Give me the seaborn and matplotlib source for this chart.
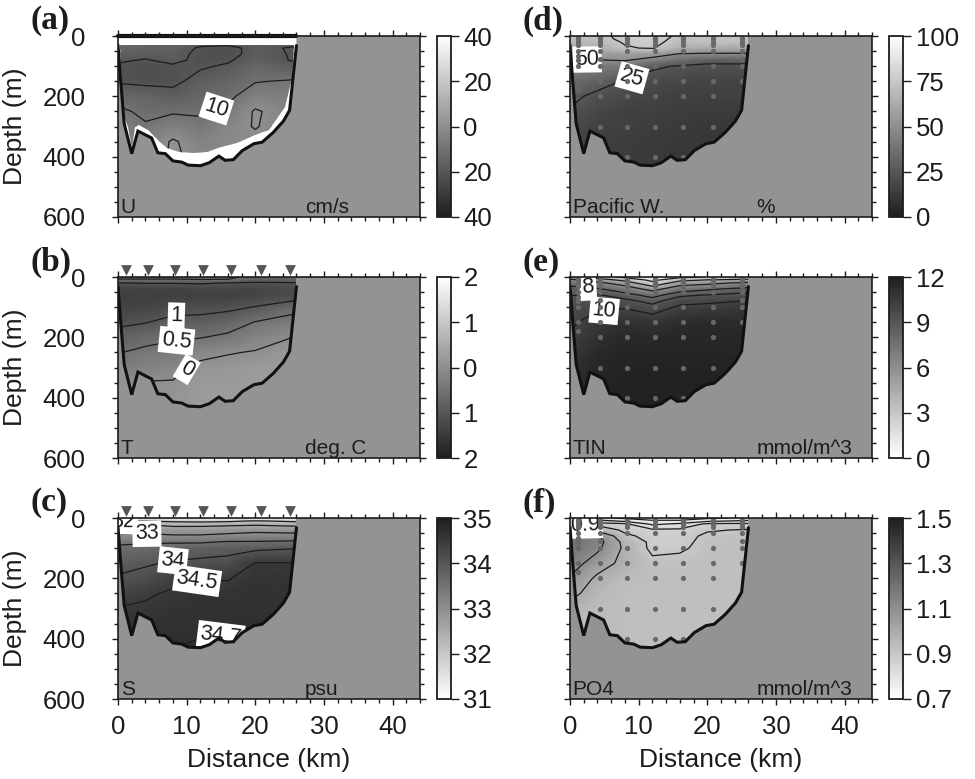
import numpy as np
import pandas as pd
import matplotlib
matplotlib.use("Agg")
import matplotlib.pyplot as plt
import seaborn as sns
from matplotlib.colors import LinearSegmentedColormap, Normalize
from matplotlib.patches import Polygon
from matplotlib.ticker import MultipleLocator, FuncFormatter
from matplotlib.cm import ScalarMappable

# ---------------- data ----------------
grid_x = [0, 4, 8, 12, 16, 20, 26]                                     # km
grid_z = [0, 10, 20, 40, 60, 80, 100, 150, 200, 250, 300, 350, 450]    # m

# bottom topography (thick black line)
bath_x = [0.0, 0.4, 0.9, 2.0, 2.9, 4.9, 5.8, 6.9, 8.0, 9.3, 10.2, 12.0, 13.3,
          14.7, 15.6, 16.8, 18.1, 19.8, 21.0, 22.6, 24.1, 25.0, 26.0]
bath_z = [30, 150, 290, 390, 315, 338, 387, 390, 414, 418, 428, 430, 420,
          398, 412, 410, 380, 357, 352, 320, 282, 246, 32]

# extent of the ADCP velocity data (panel a)
u_edge_x = [0.3, 25.7, 25.3, 24.4, 22.0, 19.9, 17.3, 15.0, 13.0, 11.1, 8.9,
            7.1, 6.2, 4.4, 3.1, 2.5, 2.0, 1.4, 0.8]
u_edge_z = [30, 30, 140, 234, 311, 328, 356, 367, 383, 389, 383,
            372, 355, 312, 295, 300, 370, 300, 260]
adcp_bar_x = [0.0, 26.0]
adcp_bar_z = [0, 0]

# CTD stations and bottle depths
station_x = [1.2, 4.4, 8.3, 12.4, 16.4, 20.9, 25.0]
bottle_depths = [
    [5, 10, 20, 30, 50, 65, 80, 100, 150, 180],
    [5, 10, 20, 30, 50, 75, 100, 150, 200, 300],
    [5, 10, 20, 30, 50, 100, 150, 200, 300, 400],
    [5, 10, 20, 30, 50, 100, 150, 200, 300, 400],
    [5, 10, 20, 30, 50, 100, 150, 200, 300, 400],
    [5, 10, 20, 30, 50, 100, 150, 200, 300],
    [5, 10, 20, 30, 50, 75, 100, 150],
]

# field profiles: one list per grid_x column, values at grid_z
U_cols = [
    [-12, -12, -13, -14, -16, -19, -21, -21, -14, -8, -5, -4, -4],
    [-12, -12, -14, -16, -18, -20.5, -23, -22, -15, -12, -9, -6, -5],
    [-13, -13, -14, -16, -17, -18, -21, -22, -17, -11, -5, 1, 2],
    [-14, -15, -17, -21, -22, -22, -21, -17, -14, -11, -8, -4, -2],
    [-14, -15, -17, -22, -23, -21, -19, -15, -12, -8, -3, -2, -2],
    [-14, -15, -16, -18, -17, -16, -14, -10.5, -5, 1, 0.5, -2, -2],
    [-14, -15, -17, -21, -21, -21, -18, -9, -6, -5, -5, -5, -5],
]
T_cols = [
    [-0.3, -0.6, -1.02, -1.35, -1.4, -1.4, -1.35, -1.1, -0.8, -0.52, -0.3, -0.1, 0.1],
    [-0.3, -0.6, -0.98, -1.35, -1.4, -1.35, -1.3, -1.02, -0.65, -0.4, -0.2, 0.02, 0.15],
    [-0.3, -0.6, -0.98, -1.35, -1.4, -1.3, -1.2, -0.85, -0.55, -0.35, -0.15, 0.03, 0.2],
    [-0.3, -0.55, -0.95, -1.3, -1.35, -1.3, -1.15, -0.85, -0.52, -0.12, 0.1, 0.2, 0.25],
    [-0.35, -0.55, -1.02, -1.3, -1.35, -1.25, -1.1, -0.75, -0.4, -0.03, 0.15, 0.2, 0.25],
    [-0.7, -0.85, -1.05, -1.3, -1.3, -1.15, -0.98, -0.48, -0.2, 0.03, 0.2, 0.25, 0.3],
    [-0.7, -0.85, -1.02, -1.2, -1.15, -0.98, -0.65, -0.3, 0.02, 0.2, 0.25, 0.3, 0.3],
]
S_cols = [
    [31.5, 31.95, 32.4, 32.8, 33.1, 33.4, 33.6, 33.85, 34.05, 34.3, 34.52, 34.6, 34.68],
    [31.3, 32.0, 32.45, 32.85, 33.1, 33.45, 33.65, 33.95, 34.15, 34.45, 34.55, 34.62, 34.69],
    [31.2, 31.9, 32.3, 32.8, 33.05, 33.45, 33.75, 34.05, 34.4, 34.55, 34.62, 34.66, 34.71],
    [31.2, 31.85, 32.3, 32.8, 33.05, 33.45, 33.8, 34.1, 34.49, 34.6, 34.65, 34.66, 34.74],
    [31.2, 31.9, 32.35, 32.85, 33.1, 33.55, 33.85, 34.15, 34.48, 34.6, 34.65, 34.67, 34.75],
    [31.1, 32.05, 32.4, 32.9, 33.15, 33.55, 33.9, 34.52, 34.62, 34.64, 34.66, 34.69, 34.75],
    [31.2, 31.9, 32.3, 32.85, 33.15, 33.6, 33.98, 34.52, 34.62, 34.64, 34.66, 34.68, 34.72],
]
PW_cols = [
    [70, 70, 68, 62, 55, 49, 44, 35, 28, 24, 20, 18, 15],
    [72, 72, 70, 64, 56, 49.5, 42, 30, 22, 18, 16, 15, 14],
    [78, 77, 76, 74, 57, 51, 40, 24, 19, 16, 15, 14, 13],
    [80, 79, 78, 76, 56, 45, 27, 20, 17, 15, 14, 13, 12],
    [73, 72, 71, 65, 49, 36, 24, 18, 15, 14, 13, 12, 12],
    [74, 73, 72, 62, 48, 30, 22, 17, 15, 13, 12, 12, 11],
    [74, 73, 72, 62, 48, 30, 22, 17, 15, 13, 12, 12, 11],
]
TIN_cols = [
    [5, 6.5, 7.5, 8.5, 8.95, 9.3, 9.5, 9.8, 10.1, 10.6, 11.0, 11.2, 11.4],
    [3, 5, 6.5, 8.2, 9.1, 9.5, 9.8, 10.5, 11.0, 11.3, 11.5, 11.6, 11.7],
    [1.5, 3.5, 5, 7.2, 8.5, 9.3, 9.9, 11.0, 11.4, 11.6, 11.7, 11.8, 11.8],
    [0.5, 1.5, 2.5, 5.3, 7.5, 8.7, 9.3, 10.8, 11.4, 11.6, 11.7, 11.8, 11.8],
    [1.5, 3.5, 5.0, 7.3, 8.8, 9.6, 10.2, 11.2, 11.5, 11.6, 11.7, 11.8, 11.8],
    [2.1, 4.1, 5.5, 7.8, 9.05, 9.8, 10.3, 11.3, 11.5, 11.6, 11.7, 11.8, 11.8],
    [2.5, 4.5, 6.5, 8.5, 9.3, 10.05, 10.6, 11.3, 11.5, 11.6, 11.7, 11.8, 11.8],
]
PO4_cols = [
    [0.8, 0.84, 0.88, 1.02, 1.18, 1.22, 1.2, 1.15, 1.09, 1.03, 0.97, 0.95, 0.95],
    [0.76, 0.82, 0.87, 0.97, 1.12, 1.14, 1.12, 1.05, 0.98, 0.95, 0.94, 0.94, 0.94],
    [0.74, 0.79, 0.86, 0.88, 0.92, 0.97, 0.98, 0.97, 0.94, 0.93, 0.93, 0.93, 0.93],
    [0.72, 0.76, 0.79, 0.86, 0.87, 0.88, 0.88, 0.92, 0.93, 0.93, 0.93, 0.93, 0.93],
    [0.72, 0.76, 0.81, 0.86, 0.88, 0.88, 0.89, 0.92, 0.93, 0.93, 0.93, 0.93, 0.93],
    [0.74, 0.79, 0.86, 0.895, 0.91, 0.92, 0.92, 0.93, 0.93, 0.93, 0.93, 0.93, 0.93],
    [0.76, 0.81, 0.86, 0.905, 0.92, 0.93, 0.93, 0.93, 0.93, 0.93, 0.93, 0.93, 0.93],
]

# ---------------- style ----------------
sns.set_theme(style="ticks")
plt.rcParams["font.family"] = ["Liberation Sans", "DejaVu Sans"]
plt.rcParams["axes.unicode_minus"] = False

W, H = 975, 779
fig = plt.figure(figsize=(W / 100, H / 100), dpi=100)

BG = "#939393"
INK = "#1c1c1c"
cmap_up = LinearSegmentedColormap.from_list("gray_up", ["#1e1e1e", "#ffffff"])
cmap_down = cmap_up.reversed()

def absfmt(v, pos=None):
    return f"{abs(v):g}"

panels = [
    dict(letter="(a)", row=0, col=0, cols=U_cols, cmap=cmap_up, vmin=-40, vmax=40,
         cticks=[-40, -20, 0, 20, 40], levels=[-20, -10, 0], lab_levels=[-10],
         lab_pos=[(14.5, 255)], name="U", unit="cm/s", kind="adcp"),
    dict(letter="(b)", row=1, col=0, cols=T_cols, cmap=cmap_up, vmin=-2, vmax=2,
         cticks=[-2, -1, 0, 1, 2], levels=[-1, -0.5, 0], lab_levels=[-1, -0.5, 0],
         lab_pos=[(8.5, 130), (8.5, 205), (10.2, 315)], name="T", unit="deg. C", kind="ctd"),
    dict(letter="(c)", row=2, col=0, cols=S_cols, cmap=cmap_down, vmin=31, vmax=35,
         cticks=[31, 32, 33, 34, 35], levels=[32, 32.5, 33, 33.5, 34, 34.5, 34.7],
         lab_levels=[32, 33, 34, 34.5, 34.7],
         lab_pos=[(0.8, 12), (4.2, 62), (8, 140), (11.5, 205), (15, 398)],
         name="S", unit="psu", kind="ctd"),
    dict(letter="(d)", row=0, col=1, cols=PW_cols, cmap=cmap_up, vmin=0, vmax=100,
         cticks=[0, 25, 50, 75, 100], levels=[25, 50, 75], lab_levels=[25, 50],
         lab_pos=[(9, 135), (2.5, 80)], name="Pacific W.", unit="%", kind="bottle"),
    dict(letter="(e)", row=1, col=1, cols=TIN_cols, cmap=cmap_down, vmin=0, vmax=12,
         cticks=[0, 3, 6, 9, 12], levels=[2, 4, 6, 8, 9, 10], lab_levels=[8, 10],
         lab_pos=[(2.6, 40), (5, 120)], name="TIN", unit="mmol/m^3", kind="bottle"),
    dict(letter="(f)", row=2, col=1, cols=PO4_cols, cmap=cmap_down, vmin=0.7, vmax=1.5,
         cticks=[0.7, 0.9, 1.1, 1.3, 1.5], levels=[0.75, 0.8, 0.85, 0.9, 1.0, 1.1],
         lab_levels=[0.9], lab_pos=[(2.2, 25)], name="PO4", unit="mmol/m^3", kind="bottle"),
]

col_left = [118, 570]
cbar_left = [437, 889]
letter_left = [30, 523]
row_top = [36, 277, 518]
AX_W, AX_H, CB_W = 302, 181, 14

X, Z = np.meshgrid(grid_x, grid_z)
sec_poly = np.column_stack([[0.0] + bath_x + [bath_x[-1]], [0] + bath_z + [0]])
u_poly = np.column_stack([u_edge_x, u_edge_z])

bottles = pd.DataFrame({
    "x": [sx for sx, ds in zip(station_x, bottle_depths) for _ in ds],
    "z": [d for ds in bottle_depths for d in ds],
})
stations = pd.DataFrame({"x": station_x, "z": [-22] * len(station_x)})

for p in panels:
    L, T = col_left[p["col"]], row_top[p["row"]]
    ax = fig.add_axes([L / W, 1 - (T + AX_H) / H, AX_W / W, AX_H / H])
    ax.set_facecolor(BG)
    V = np.array(p["cols"], dtype=float).T

    sec_patch = Polygon(sec_poly, closed=True, transform=ax.transData,
                        fc="white" if p["kind"] == "adcp" else "none", ec="none", zorder=1)
    ax.add_patch(sec_patch)
    if p["kind"] == "adcp":
        clip = Polygon(u_poly, closed=True, transform=ax.transData, fc="none", ec="none")
        ax.add_patch(clip)
    else:
        clip = sec_patch

    mesh = ax.pcolormesh(X, Z, V, shading="gouraud", cmap=p["cmap"],
                         vmin=p["vmin"], vmax=p["vmax"], zorder=2)
    mesh.set_clip_path(clip)

    plain = [lv for lv in p["levels"] if lv not in p["lab_levels"]]
    if plain:
        cs0 = ax.contour(X, Z, V, levels=plain, colors=INK, linewidths=0.9,
                         linestyles="solid", zorder=3)
        cs0.set_clip_path(clip)
    cs = ax.contour(X, Z, V, levels=p["lab_levels"], colors=INK, linewidths=0.9,
                    linestyles="solid", zorder=3)
    cs.set_clip_path(clip)
    ax.clabel(cs, manual=p["lab_pos"], inline=True,
              inline_spacing=6, fmt=absfmt, fontsize=15.5, colors=INK)
    for t in cs.labelTexts:
        t.set_bbox(dict(boxstyle="square,pad=0.12", fc="white", ec="none"))
        t.set_clip_path(clip)
        t.set_zorder(4)

    ax.plot(bath_x, bath_z, color="#111111", lw=2.2, zorder=6, solid_joinstyle="miter")
    if p["kind"] == "adcp":
        ax.plot(adcp_bar_x, adcp_bar_z, color="#111111", lw=3.0, zorder=6, clip_on=False)
    if p["kind"] == "bottle":
        sns.scatterplot(data=bottles, x="x", y="z", ax=ax, color="#686868", s=14,
                        linewidth=0, legend=False, zorder=5)
    if p["kind"] == "ctd":
        sns.scatterplot(data=stations, x="x", y="z", ax=ax, color="#555555", marker="v",
                        s=60, linewidth=0, legend=False, zorder=7, clip_on=False)

    ax.text(0.4, 588, p["name"], fontsize=15, color=INK, va="baseline", ha="left", zorder=8)
    ax.text(27.2, 588, p["unit"], fontsize=15, color=INK, va="baseline", ha="left", zorder=8)

    ax.set_xlim(0, 44)
    ax.set_ylim(600, 0)
    ax.xaxis.set_major_locator(MultipleLocator(10))
    ax.xaxis.set_minor_locator(MultipleLocator(2))
    ax.yaxis.set_major_locator(MultipleLocator(200))
    ax.yaxis.set_minor_locator(MultipleLocator(50))
    ax.tick_params(which="both", direction="out", top=True, right=True, bottom=True, left=True,
                   color=INK, width=1.0, labelcolor=INK)
    ax.tick_params(which="major", length=4.5)
    ax.tick_params(which="minor", length=3)
    ax.tick_params(axis="y", labelsize=18.5, pad=19)
    ax.tick_params(axis="x", labelsize=18.5, pad=7)
    for s in ax.spines.values():
        s.set_color(INK)
        s.set_linewidth(1.2)
        s.set_zorder(9)

    if p["col"] == 0:
        ax.set_ylabel("Depth (m)", fontsize=19, color=INK)
        ax.yaxis.set_label_coords(-0.3, 0.5)
    else:
        ax.set_ylabel("")
        ax.tick_params(axis="y", labelleft=False)
    if p["row"] == 2:
        ax.set_xlabel("Distance (km)", fontsize=19, color=INK)
        ax.xaxis.set_label_coords(0.5, -0.27)
    else:
        ax.set_xlabel("")
        ax.tick_params(axis="x", labelbottom=False)

    # colour bar
    cax = fig.add_axes([cbar_left[p["col"]] / W, 1 - (T + AX_H) / H, CB_W / W, AX_H / H])
    sm = ScalarMappable(norm=Normalize(p["vmin"], p["vmax"]), cmap=p["cmap"])
    cb = fig.colorbar(sm, cax=cax, ticks=p["cticks"], format=FuncFormatter(absfmt))
    cb.outline.set_linewidth(1.3)
    cb.outline.set_edgecolor(INK)
    cax.tick_params(direction="out", length=6, width=1.0, color=INK, labelsize=18.5,
                    pad=3, labelcolor=INK)
    cax.minorticks_off()

    # panel letter
    fig.text(letter_left[p["col"]] / W, 1 - (T - 15) / H, p["letter"], fontsize=24,
             fontweight="bold", family=["Liberation Serif", "DejaVu Serif"], color=INK,
             va="center", ha="left")

fig.savefig("out.png", dpi=100, facecolor="white")
